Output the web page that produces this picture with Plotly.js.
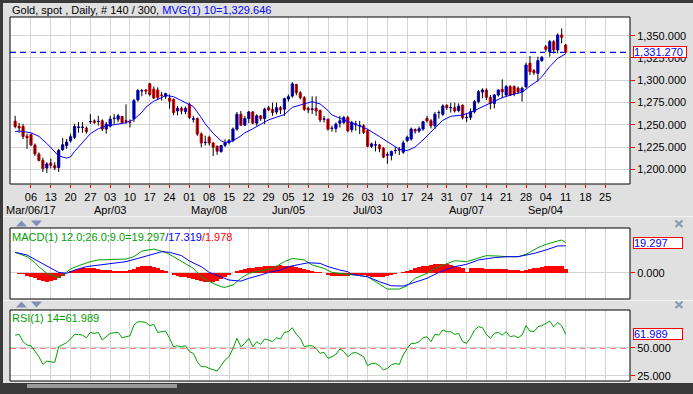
<!DOCTYPE html>
<html><head><meta charset="utf-8">
<script src="https://cdn.plot.ly/plotly-3.0.1.min.js"></script>
<style>html,body{margin:0;padding:0;background:#e0e0e0;}#chart{width:693px;height:394px;}</style>
</head><body><div id="chart"></div>
<script>
// ---------------- DATA ----------------
const firstDate = '2017-02-28';
const axisLastDate = '2017-09-29';
const openP = [1254,1248,1248,1237,1239,1227,1217,1210,1201.5,1207,1204,1202,1222,1226.5,1232,1236,1247,1247,1246.3,1253.3,
1254.4,1253.6,1254.4,1245.2,1248.5,1257,1256.3,1259.3,1254.4,1252.8,1257,1278,1288,1289,1296,1290,1289,1283.2,1282,1280,
1278.5,1265.5,1268.5,1264.8,1273,1256.3,1257,1239.6,1230,1235.9,1229.6,1225.9,1220,1227,1230,1232.2,1245.2,1261.8,1249.6,1257,
1264.4,1251.8,1260,1257,1269.2,1267.4,1264.4,1269.2,1267.4,1279,1282.2,1295.2,1285.9,1280.4,1268.5,1267.2,1268.5,1266,1256.2,1256.3,
1245.8,1245.9,1251.8,1252.6,1258.1,1244.5,1250.5,1248.7,1248.9,1243.3,1225.9,1227.2,1227.4,1223.7,1216,1215.5,1221,1222.2,1219.2,1232.2,
1234,1244.5,1243,1245.2,1257,1254.4,1248.9,1263.5,1261.8,1271.8,1269,1269.2,1266,1271.8,1258,1258.3,1264.7,1275.9,1286.8,1289,
1280.8,1274,1283.4,1289.7,1283.4,1292.8,1292.8,1290.9,1287.1,1292.8,1319,1310.7,1307.7,1322,1337.7,1332,1343.3,1334,1350.8,1339.5];
const highP = [1260,1252,1251,1240,1240,1229,1219,1213,1208,1212,1208,1223,1235,1234,1240,1251,1253,1253,1248,1262,
1256,1260,1256,1253,1260,1262,1262,1260,1273,1256,1279,1290,1290,1290,1297,1293,1292,1287,1286,1284,
1279.3,1271,1270.4,1270.4,1274.8,1260,1258.1,1241.5,1237.8,1237.8,1230.4,1226.7,1227.4,1233.7,1234,1247,1264.4,1265.5,1260,1265.5,
1265.5,1261.8,1260.7,1269.2,1271.1,1274.8,1274.8,1271,1280.4,1284,1297.8,1296,1287.8,1282.2,1270.4,1282,1282,1267,1260,1257,
1249,1252.6,1260,1260,1260,1254.4,1254.4,1254.4,1250.7,1245.2,1230,1232,1228.5,1224.8,1219.2,1221.1,1224.8,1225,1232.2,1237.8,
1247,1246,1248,1254.4,1260,1256.3,1264.4,1266,1273,1273,1274.8,1274.8,1274,1273,1263,1268.4,1277.8,1289,1290.9,1290.9,
1283.4,1284.5,1289.7,1301,1294.6,1294.6,1294,1293,1292.8,1319.7,1327.2,1312.5,1326.4,1327.2,1339.5,1345.1,1345,1352.6,1358.3,1340.7];
const lowP = [1246,1241,1234,1223,1226,1215,1209,1197,1196,1201,1199,1197,1221,1223,1230,1234,1241,1241,1240,1251,
1251,1249,1243,1240,1247,1251,1253,1251,1251,1247,1253,1276,1282,1284,1282,1279,1278,1277,1279,1268,
1260.7,1260.7,1261.8,1261.8,1256.3,1252.6,1237.6,1224.8,1226.7,1226.7,1214.8,1216.3,1218.5,1225,1228,1230.4,1243.3,1248.9,1248.9,1251.8,
1250.7,1248.9,1254.4,1250.7,1265.5,1259.9,1261.8,1262,1260,1276,1280.4,1283,1278.5,1265.5,1263,1262,1260,1253,1252.6,1243.3,
1242.2,1241.5,1247,1250.7,1241.5,1241.5,1243.3,1239.6,1239.6,1224.8,1224,1220,1219.2,1212.6,1206.3,1210,1217.4,1216,1217.4,1230.4,
1232.2,1240,1241,1243.3,1252.6,1246,1245.2,1257,1260,1266.7,1263.7,1263.7,1264,1256,1253,1255.3,1262.8,1274,1279.7,1277.8,
1267.3,1268.4,1281.5,1279.7,1281.5,1282.3,1282,1285,1276,1290.9,1305.9,1306,1298.4,1320.8,1332,1326.4,1330,1330.2,1341.4,1330.2];
const closeP = [1248,1246.5,1237,1235.5,1227.5,1217.5,1210,1201,1206,1204.5,1201.5,1221,1227.5,1230.5,1236.5,1248,1247.5,1247.4,1242.2,1253.6,
1252.6,1253.8,1245.2,1250.7,1256.3,1257.3,1260,1252.6,1254,1252.6,1277,1288.5,1288.3,1288,1284,1280,1280.5,1283,1285,1276.5,
1263.7,1268.5,1265.5,1268.5,1258.1,1256.6,1239.6,1229.6,1230.3,1229.6,1224.8,1220.4,1226.7,1230,1232,1245.2,1261.8,1249.6,1257,1264.4,
1251.8,1260,1257,1267.4,1266.7,1263.7,1269.2,1266.7,1279.3,1281.5,1295.9,1285.9,1280.4,1267.4,1266.7,1267.6,1265.5,1255.5,1256.5,1245.2,
1246.1,1250.7,1254.4,1258.1,1243.3,1252.6,1250.8,1249.2,1241.5,1225.9,1228.5,1227.5,1223,1213.7,1216.3,1220,1221.2,1221.6,1229.6,1235.9,
1245.2,1243,1245.5,1253.3,1254.4,1248.9,1261.8,1263.8,1271.1,1269.2,1269.3,1265.5,1271,1258,1258.3,1264.7,1275.9,1287.1,1289,1280.8,
1274,1283.4,1289,1287.1,1292.8,1283.4,1284.5,1287.1,1291,1317.1,1309.6,1308.5,1322,1325.7,1334.7,1343.3,1334,1350.8,1348.1,1331.27];

// MVG(1) 10 at candle indices
const maIdx = [0,1,4,6,8,10,11,13,14,15,17,19,21,23,26,28,30,32,33,35,37,38,40,42,43,45,47,48,50,52,53,55,57,58,60,62,64,66,68,70,72,74,75,77,79,80,82,84,87,89,92,95,97,99,101,103,105,108,110,113,115,118,120,123,126,128,130,132,133,135,137,139];
const maVal = [1242.3,1243,1241,1237,1229,1219,1215,1212.5,1214,1220,1230,1240,1245.5,1248.7,1250.8,1252.4,1256,1264,1269.6,1276.5,1280.5,1283,1281.5,1277,1275,1270.4,1258,1251,1240.4,1232,1230,1232,1237.5,1241,1245.5,1250.5,1255.5,1258.5,1261.5,1269.6,1272.5,1275.3,1276,1273.4,1266,1261,1257.3,1254.3,1248.7,1245,1236.7,1228,1222.5,1221,1225,1233,1241.5,1255,1259.5,1261,1264,1270.4,1275,1280.5,1284.5,1286.5,1293.5,1299.5,1304,1315.3,1324.5,1329.646];

// MACD(1) 12;26;9
const macdIdx = [0,3,5,6,8,10,11,12,14,16,19,21,24,27,28,30,32,35,37,38,40,42,45,47,50,52,53,55,57,59,62,65,68,70,73,75,78,80,84,86,89,94,97,99,101,104,106,109,111,114,117,119,122,124,127,129,132,134,137,138,139];
const macdVal = [13.1,10.3,6.5,3.8,-0.4,-2.6,-3.2,-1.5,2.4,4.5,7.1,8.2,8.6,8.6,8.8,10.3,13.9,15.2,13.9,13.1,10.3,7.1,2.8,-2.6,-6.9,-9,-9.4,-7.9,-3.6,-0.4,1.1,2.8,7.1,9.2,8.2,5,2.8,0.2,-1.1,-1.5,-2.6,-10.5,-10.5,-8.4,-3.6,-0.4,2.8,6,7.7,7.1,9.7,11,10.7,10.3,10.3,11.8,16.1,18.2,20.4,21,19.297];
const sigIdx = [0,3,6,9,11,13,15,18,21,25,28,31,35,37,39,42,44,47,49,52,54,57,59,62,64,67,69,72,74,77,79,82,84,85,89,92,95,98,100,104,107,111,114,117,121,124,127,131,134,137,139];
const sigVal = [13.1,11.4,7.1,2.8,0.2,-0.4,1.7,3.9,5,6.4,7.1,9.2,12.4,13.5,13.1,11,7.5,3.9,0.2,-2.6,-4.7,-5.4,-3.6,-1.5,0.2,1.7,3.9,5.4,6.4,6,3.9,1.7,0.65,-1.1,-2.6,-5.8,-8.4,-8.6,-6.9,-3.6,0.2,3.9,5.4,8.2,9.7,10.3,10.3,12.4,14.6,17.2,17.319];
const histVal = [-0.3,-0.6,-1.1,-1.8,-2.6,-3.5,-4.4,-5.2,-5.8,-5.6,-4.8,-3.4,-1.9,-0.5,
0.8,1.8,2.5,2.8,3.0,3.0,2.8,2.5,2.0,1.7,1.5,1.4,1.3,1.2,1.2,1.5,2.5,3.6,4.3,4.5,4.2,3.6,2.8,2.0,1.2,
-0.3,-1.2,-2.0,-2.6,-3.0,-3.6,-4.3,-5.0,-5.6,-6.0,-6.1,-5.8,-5.2,-4.2,-3.0,-1.6,
-0.4,0.8,1.8,2.4,2.8,3.0,3.4,3.8,4.0,4.2,4.4,4.6,4.7,4.6,4.4,4.3,3.8,3.0,2.2,1.5,1.0,0.6,0.2,
-0.5,-1.2,-1.8,-2.2,-2.4,-2.2,-1.8,-1.5,-1.3,-1.2,-1.5,-2.2,-2.6,-2.8,-2.8,-2.6,-2.2,-1.6,-1.0,-0.4,
0.4,1.2,2.0,2.8,3.4,4.0,4.5,5.0,5.3,5.5,5.5,5.4,5.0,4.4,3.8,3.2,0.3,2.8,3.0,3.2,3.0,2.6,2.4,2.4,2.6,2.6,2.2,2.0,1.8,1.6,1.2,2.0,2.6,2.8,3.2,3.6,4.0,4.2,4.3,4.4,4.3,2.6];

// RSI(1) 14
const rsiVal = [61.3,61.9,55.4,52.4,51.8,46.5,42,35.1,38.1,37.5,36.9,50.9,53,54.5,57.8,61.9,61.9,61.3,58.9,63.7,
62.8,63.7,56.9,59.8,62.8,63.4,63.7,58.9,59.8,60.7,70.3,73.2,73.2,72.6,69.7,70.9,63.7,64.3,64.9,58.4,
50.9,51.8,50.9,51.8,46.5,45,37.5,33.1,33.1,31.6,30.1,29.2,34,39,42,49.4,58.4,50.9,53.9,58.4,
50.9,55.4,53,57.8,56.9,55.4,58.9,57.8,63.7,64.3,67.9,61.9,58.4,50.9,51.8,51.8,49.4,45,45.9,40.5,
42,44.1,49,46.5,42,45,45.9,44.1,42,34,36,36,34,30.1,31.6,34.6,36,35.1,43.5,49.4,
53.9,53.9,55.4,58.9,59.8,55.4,61.9,61.3,65.8,64.3,64.3,61.9,62.8,55.4,53.9,58.9,65.8,68.8,67.9,61.9,
58.4,62.8,63.7,61.3,64.3,59.8,60.7,58.9,61.3,69.7,64.9,64.3,68.8,69.7,71.8,73.8,68.8,72.6,69.7,61.989];

const lastPrice = 1331.27, lastMA = 1329.646;
const lastMACD = 19.297, lastSig = 17.319, lastHist = 1.978, lastRSI = 61.989;
const monthLabelDates = ['2017-03-06','2017-04-03','2017-05-08','2017-06-05','2017-07-03','2017-08-07','2017-09-04'];
const monthLabelText = ['Mar/06/17','Apr/03','May/08','Jun/05','Jul/03','Aug/07','Sep/04'];

// ---------------- BUILD ----------------
const W = 693, H = 394;
const px = x => x / W, py = y => 1 - y / H;
const iso = d => d.toISOString().slice(0,10);
const dates = [];
for (let t = Date.parse(firstDate); t <= Date.parse(axisLastDate); t += 86400000) {
  const d = new Date(t), wd = d.getUTCDay();
  if (wd !== 0 && wd !== 6) dates.push(d);
}
const N = closeP.length;
const idx = closeP.map((_, i) => i);
const tickvals = [], ticktext = [];
dates.forEach((d, i) => { if (d.getUTCDay() === 1) { tickvals.push(i); ticktext.push(String(d.getUTCDate()).padStart(2,'0')); } });
const dateIndex = s => dates.findIndex(d => iso(d) === s);

const fmt = (v, n) => v.toLocaleString('en-US', {minimumFractionDigits:n, maximumFractionDigits:n});

const wx = [], wy = [];
for (let i = 0; i < N; i++) { wx.push(i, i, null); wy.push(lowP[i], highP[i], null); }
const bodyHigh = openP.map((o, i) => Math.max(o, closeP[i]));
const bodyLow = openP.map((o, i) => Math.min(o, closeP[i]));

const BLUE = '#0000ff', RED = '#ff0000', GREEN = '#00a000', GRID = '#d4d4d4';
const FONT = 'Liberation Sans, Arial, sans-serif';

const traces = [
  {type:'scatter', mode:'lines', x:wx, y:wy, line:{color:'#000', width:1}, xaxis:'x', yaxis:'y', hoverinfo:'skip'},
  {type:'candlestick', x:idx, open:openP, high:bodyHigh, low:bodyLow, close:closeP, xaxis:'x', yaxis:'y',
   increasing:{line:{color:BLUE, width:1}, fillcolor:BLUE},
   decreasing:{line:{color:RED, width:1}, fillcolor:RED}, whiskerwidth:0},
  {type:'scatter', mode:'lines', x:maIdx, y:maVal, line:{color:BLUE, width:1}, xaxis:'x', yaxis:'y'},
  {type:'bar', x:idx, y:histVal, width:1, marker:{color:RED, line:{width:0}}, xaxis:'x', yaxis:'y2'},
  {type:'scatter', mode:'lines', x:macdIdx, y:macdVal, line:{color:GREEN, width:1}, xaxis:'x', yaxis:'y2'},
  {type:'scatter', mode:'lines', x:sigIdx, y:sigVal, line:{color:BLUE, width:1}, xaxis:'x', yaxis:'y2'},
  {type:'scatter', mode:'lines', x:idx, y:rsiVal, line:{color:GREEN, width:1}, xaxis:'x', yaxis:'y3'}
];

const X0 = 10, X1 = 630;
const panels = [[17,184],[228,299],[310,381]];
const shapes = [];
const rectPx = (x0,y0,x1,y1,o) => Object.assign({type:'rect', xref:'paper', yref:'paper', x0:px(x0), x1:px(x1), y0:py(y1), y1:py(y0)}, o);
// frame decorations
shapes.push(rectPx(0,0,693,3,{fillcolor:'#3a3a3a', line:{width:0}, layer:'below'}));
shapes.push(rectPx(0,0,3,394,{fillcolor:'#3a3a3a', line:{width:0}, layer:'below'}));
shapes.push(rectPx(0,383,693,394,{fillcolor:'#3a3a3a', line:{width:0}, layer:'below'}));
shapes.push(rectPx(27,384,177,388,{fillcolor:'#9a9a9a', line:{width:0}, layer:'below'}));
shapes.push(rectPx(3,216,693,217,{fillcolor:'#f4f4f4', line:{width:0}, layer:'below'}));
shapes.push(rectPx(3,300,693,301,{fillcolor:'#f4f4f4', line:{width:0}, layer:'below'}));
// dashed lines
shapes.push({type:'line', xref:'paper', yref:'y', x0:px(X0), x1:px(X1), y0:lastPrice, y1:lastPrice, line:{color:BLUE, width:1.2, dash:'6px,4px'}, layer:'between'});
shapes.push({type:'line', xref:'paper', yref:'y3', x0:px(X0), x1:px(X1), y0:50, y1:50, line:{color:RED, width:1.5, dash:'6px,4px'}, layer:'between'});
// panel borders
panels.forEach(([t,b]) => shapes.push(rectPx(X0,t,X1,b,{line:{color:'#000', width:1}, fillcolor:'rgba(0,0,0,0)', layer:'above'})));
// arrow icons
const tri = pts => 'M' + pts.map(p => px(p[0]) + ',' + py(p[1])).join(' L') + ' Z';
[[220.5,226.5],[301.5,307.5]].forEach(([t,b]) => {
  shapes.push({type:'path', xref:'paper', yref:'paper', path:tri([[16,b],[21.5,t],[27,b]]), fillcolor:'#7f8fb5', line:{width:0}});
  shapes.push({type:'path', xref:'paper', yref:'paper', path:tri([[31,t],[42,t],[36.5,b]]), fillcolor:'#7f8fb5', line:{width:0}});
});
// close icons
[[220.5,227],[301.5,308]].forEach(([t,b]) => {
  shapes.push({type:'line', xref:'paper', yref:'paper', x0:px(675.5), x1:px(682.5), y0:py(t), y1:py(b), line:{color:'#8b98b8', width:2.2}});
  shapes.push({type:'line', xref:'paper', yref:'paper', x0:px(675.5), x1:px(682.5), y0:py(b), y1:py(t), line:{color:'#8b98b8', width:2.2}});
});

const ann = [];
ann.push({xref:'paper', yref:'paper', x:px(10), y:py(10), xanchor:'left', yanchor:'middle', showarrow:false,
  text:'Gold, spot , Daily, # ' + N + ' / 300, <span style="color:' + BLUE + '">MVG(1) 10=' + fmt(lastMA,3) + '</span>',
  font:{family:FONT, size:11, color:'#000'}});
ann.push({xref:'paper', yref:'paper', x:px(10), y:py(236.5), xanchor:'left', yanchor:'middle', showarrow:false,
  text:'<span style="color:' + GREEN + '">MACD(1) 12.0;26.0;9.0=' + fmt(lastMACD,3) + '</span><span style="color:' + BLUE + '">/' + fmt(lastSig,3) + '</span><span style="color:' + RED + '">/' + fmt(lastHist,3) + '</span>',
  font:{family:FONT, size:11}});
ann.push({xref:'paper', yref:'paper', x:px(10), y:py(318), xanchor:'left', yanchor:'middle', showarrow:false,
  text:'RSI(1) 14=' + fmt(lastRSI,3), font:{family:FONT, size:11, color:GREEN}});
const box = (yref, v, txt, w) => ({xref:'paper', yref:yref, x:px(633), y:v, xanchor:'left', yanchor:'middle', showarrow:false,
  text:txt, font:{family:FONT, size:11, color:BLUE}, bgcolor:'#ffffff', bordercolor:RED, borderwidth:1, borderpad:0,
  width:w, height:10, align:'left'});
ann.push(box('y', lastPrice, fmt(lastPrice,3), 52));
ann.push(box('y2', lastMACD, fmt(lastMACD,3), 48));
ann.push(box('y3', lastRSI, fmt(lastRSI,3), 48));
monthLabelDates.forEach((d, k) => ann.push({xref:'x', yref:'paper', x:dateIndex(d), y:py(210), xanchor:'center', yanchor:'middle',
  showarrow:false, text:monthLabelText[k], font:{family:FONT, size:11, color:'#000'}}));

const yCommon = {side:'right', ticks:'outside', ticklen:4, tickcolor:RED, showgrid:true, gridcolor:GRID, zeroline:false, showline:false, anchor:'x', fixedrange:true, tickfont:{family:FONT, size:11, color:'#000'}};
const layout = {
  width:W, height:H, margin:{l:0, r:0, t:0, b:0}, paper_bgcolor:'#e0e0e0', plot_bgcolor:'#ffffff', showlegend:false,
  font:{family:FONT, size:11, color:'#000'}, boxgap:0.2, bargap:0,
  xaxis:{domain:[px(X0), px(X1)], range:[-1.3, 155.26], tickvals:tickvals, ticktext:ticktext, ticks:'outside', ticklen:3, tickcolor:RED,
    showgrid:true, gridcolor:GRID, zeroline:false, showline:false, anchor:'y', rangeslider:{visible:false}, fixedrange:true,
    tickfont:{family:FONT, size:11, color:'#000'}},
  yaxis:Object.assign({}, yCommon, {domain:[py(184), py(17)], range:[1183.5, 1371], dtick:25, tick0:0, tickformat:',.3f'}),
  yaxis2:Object.assign({}, yCommon, {domain:[py(299), py(228)], range:[-16.9, 28.75], tickvals:[0], tickformat:'.3f'}),
  yaxis3:Object.assign({}, yCommon, {domain:[py(381), py(310)], range:[20.3, 83.7], tickvals:[25, 50], tickformat:'.3f'}),
  shapes:shapes, annotations:ann
};
Plotly.newPlot('chart', traces, layout, {staticPlot:true, displayModeBar:false});
</script></body></html>
